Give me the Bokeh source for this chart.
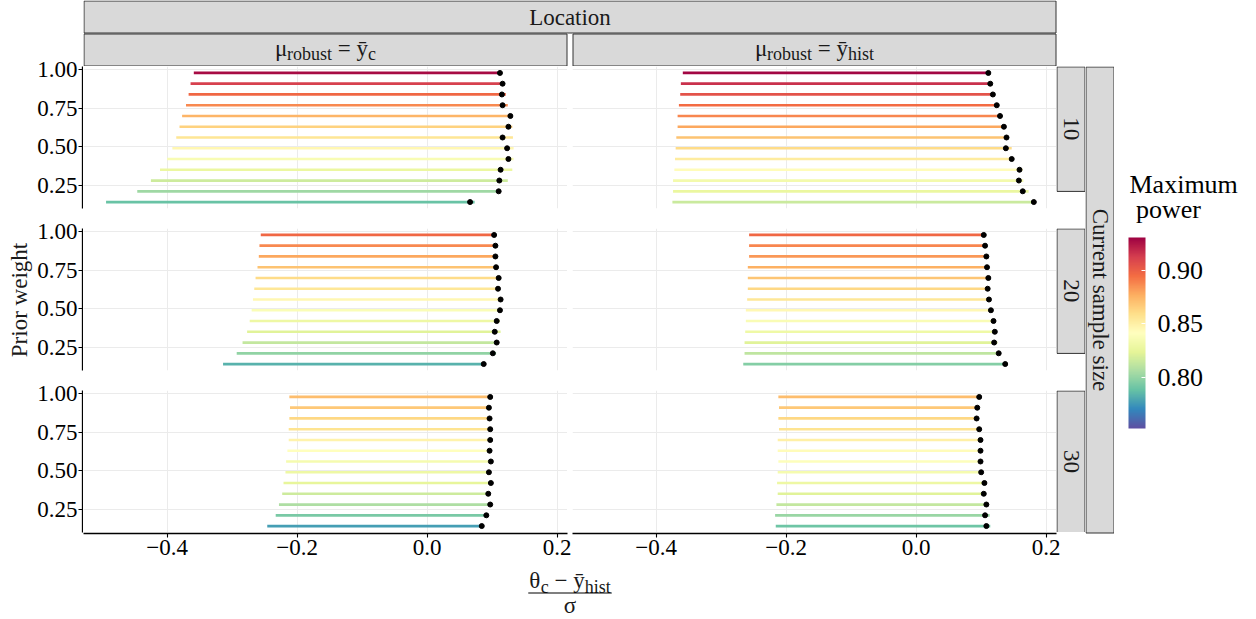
import math
from bokeh.plotting import figure
from bokeh.layouts import row, column
from bokeh.models import (Range1d, LinearAxis, Grid, FixedTicker, CustomJSTickFormatter,
                          PrintfTickFormatter, ColumnDataSource, LinearColorMapper, ColorBar)
from bokeh.transform import transform
from bokeh.core.properties import value
from bokeh.embed import file_html
from bokeh.resources import INLINE

# ---------------- data ----------------
weights = [0.98, 0.91, 0.84, 0.77, 0.70, 0.63, 0.56, 0.49, 0.42, 0.35, 0.28, 0.21, 0.14]
sample_sizes = ["10", "20", "30"]
x_ticks = [-0.4, -0.2, 0.0, 0.2]
y_ticks = [0.25, 0.50, 0.75, 1.00]
power_ticks = [0.80, 0.85, 0.90]
power_low, power_high = 0.752, 0.931

# n = 10, mu_robust = ybar_c
n10_c_start = [-0.359, -0.364, -0.367, -0.371, -0.377, -0.381, -0.386, -0.392, -0.400, -0.411, -0.425, -0.446, -0.494]
n10_c_end = [0.112, 0.117, 0.121, 0.124, 0.128, 0.131, 0.132, 0.133, 0.133, 0.131, 0.124, 0.109, 0.073]
n10_c_dot = [0.112, 0.116, 0.115, 0.116, 0.128, 0.125, 0.116, 0.123, 0.125, 0.113, 0.111, 0.110, 0.066]
n10_c_power = [0.928, 0.912, 0.897, 0.887, 0.875, 0.864, 0.856, 0.846, 0.836, 0.828, 0.816, 0.803, 0.789]
# n = 10, mu_robust = ybar_hist
n10_h_start = [-0.359, -0.362, -0.363, -0.365, -0.367, -0.367, -0.369, -0.370, -0.371, -0.372, -0.374, -0.374, -0.375]
n10_h_end = [0.111, 0.114, 0.118, 0.125, 0.129, 0.138, 0.138, 0.147, 0.148, 0.164, 0.165, 0.173, 0.182]
n10_h_dot = [0.111, 0.114, 0.118, 0.124, 0.129, 0.135, 0.139, 0.138, 0.147, 0.159, 0.158, 0.164, 0.181]
n10_h_power = [0.929, 0.917, 0.905, 0.896, 0.888, 0.879, 0.870, 0.861, 0.852, 0.843, 0.833, 0.827, 0.815]
# n = 20, mu_robust = ybar_c
n20_c_start = [-0.256, -0.258, -0.259, -0.261, -0.264, -0.266, -0.268, -0.270, -0.273, -0.277, -0.284, -0.293, -0.314]
n20_c_end = [0.103, 0.105, 0.106, 0.106, 0.110, 0.109, 0.113, 0.112, 0.112, 0.113, 0.108, 0.106, 0.090]
n20_c_dot = [0.103, 0.105, 0.105, 0.106, 0.110, 0.109, 0.113, 0.112, 0.107, 0.104, 0.107, 0.101, 0.087]
n20_c_power = [0.897, 0.887, 0.879, 0.870, 0.861, 0.855, 0.846, 0.838, 0.829, 0.822, 0.813, 0.799, 0.783]
# n = 20, mu_robust = ybar_hist
n20_h_start = [-0.257, -0.257, -0.257, -0.259, -0.259, -0.259, -0.260, -0.262, -0.262, -0.263, -0.264, -0.264, -0.266]
n20_h_end = [0.104, 0.106, 0.108, 0.109, 0.111, 0.110, 0.112, 0.115, 0.119, 0.121, 0.125, 0.127, 0.137]
n20_h_dot = [0.104, 0.106, 0.108, 0.109, 0.111, 0.110, 0.112, 0.115, 0.119, 0.121, 0.120, 0.127, 0.137]
n20_h_power = [0.897, 0.888, 0.883, 0.876, 0.869, 0.862, 0.855, 0.845, 0.837, 0.830, 0.822, 0.812, 0.796]
# n = 30, mu_robust = ybar_c
n30_c_start = [-0.212, -0.211, -0.212, -0.213, -0.213, -0.215, -0.217, -0.218, -0.221, -0.223, -0.228, -0.233, -0.246]
n30_c_end = [0.097, 0.095, 0.096, 0.097, 0.097, 0.096, 0.098, 0.095, 0.098, 0.095, 0.097, 0.093, 0.087]
n30_c_dot = [0.097, 0.095, 0.096, 0.097, 0.097, 0.096, 0.098, 0.095, 0.098, 0.094, 0.097, 0.091, 0.084]
n30_c_power = [0.872, 0.868, 0.862, 0.857, 0.848, 0.841, 0.834, 0.829, 0.825, 0.816, 0.807, 0.793, 0.777]
# n = 30, mu_robust = ybar_hist
n30_h_start = [-0.212, -0.211, -0.212, -0.211, -0.213, -0.213, -0.212, -0.213, -0.214, -0.213, -0.215, -0.217, -0.216]
n30_h_end = [0.097, 0.094, 0.093, 0.097, 0.099, 0.099, 0.099, 0.100, 0.105, 0.104, 0.108, 0.113, 0.114]
n30_h_dot = [0.097, 0.094, 0.093, 0.097, 0.099, 0.099, 0.099, 0.100, 0.105, 0.104, 0.108, 0.106, 0.108]
n30_h_power = [0.872, 0.868, 0.862, 0.857, 0.850, 0.843, 0.840, 0.834, 0.829, 0.822, 0.813, 0.801, 0.790]

# ---------------- style ----------------
FONT = "Liberation Serif"
GRID = "#EBEBEB"
STRIP_FILL = "#D9D9D9"
STRIP_LINE = "#333333"
TXT = "#1A1A1A"
XR = (-0.5287, 0.2159)
YR = (0.098, 1.022)
FRAME_W, FRAME_H = 484, 142
BASE_SHIFT = 0.33  # em correction for the alphabetic baseline as rendered

spectral = ['#5E4FA2', '#3288BD', '#66C2A5', '#ABDDA4', '#E6F598', '#FFFFBF',
            '#FEE08B', '#FDAE61', '#F46D43', '#D53E4F', '#9E0142']


def lerp_palette(colors, n):
    rgb = [tuple(int(c[i:i + 2], 16) for i in (1, 3, 5)) for c in colors]
    out = []
    for k in range(n):
        t = k / (n - 1) * (len(rgb) - 1)
        i = min(int(t), len(rgb) - 2)
        f = t - i
        c = tuple(int(round(rgb[i][j] + (rgb[i + 1][j] - rgb[i][j]) * f)) for j in range(3))
        out.append('#%02x%02x%02x' % c)
    return out


mapper = LinearColorMapper(palette=lerp_palette(spectral, 256), low=power_low, high=power_high)

CW = {'μ': 0.52, 'θ': 0.5, 'σ': 0.54, 'ȳ': 0.5, 'y': 0.5, '=': 0.564, '−': 0.564, ' ': 0.25,
      'r': 0.333, 'o': 0.5, 'b': 0.5, 'u': 0.5, 's': 0.389, 't': 0.278, 'h': 0.5, 'i': 0.278, 'c': 0.444}


def base_fig(width, height, x_range, y_range, left=0, right=0, top=0, bottom=0):
    p = figure(width=width, height=height, x_range=x_range, y_range=y_range,
               min_border=0, min_border_left=left, min_border_right=right,
               min_border_top=top, min_border_bottom=bottom,
               x_axis_location=None, y_axis_location=None, toolbar_location=None,
               output_backend="svg", outline_line_color=None,
               background_fill_color="white", border_fill_color="white")
    p.grid.visible = False
    return p


def canvas(w, h, x0, y0):
    return base_fig(w, h, Range1d(x0, x0 + w), Range1d(y0 + h, y0))


def txt(p, x, baseline, s, size, align="left", color=TXT):
    p.text(x=[x], y=[baseline - BASE_SHIFT * size], text=[s], text_font=value(FONT),
           text_font_size=f"{size}px", text_align=align, text_baseline="alphabetic",
           text_color=color)


def math_text(p, pieces, xc, baseline):
    widths = [sum(CW.get(ch, 0.5) for ch in s) * size for s, size, dy in pieces]
    x = xc - sum(widths) / 2.0
    for (s, size, dy), w in zip(pieces, widths):
        lead = (len(s) - len(s.lstrip(' '))) * 0.25 * size
        txt(p, x + lead, baseline + dy, s.strip(), size)
        x += w
    return xc - sum(widths) / 2.0, xc + sum(widths) / 2.0


def style_axis(ax, standoff=2):
    ax.axis_line_color = "black"
    ax.axis_line_width = 1.3
    ax.major_tick_line_color = "black"
    ax.major_tick_line_width = 1.1
    ax.major_tick_out = 4
    ax.major_tick_in = 0
    ax.minor_tick_out = 0
    ax.minor_tick_in = 0
    ax.major_label_text_font = FONT
    ax.major_label_text_font_size = "23px"
    ax.major_label_text_color = "black"
    ax.major_label_standoff = standoff


def make_panel(start, end, dot, power, left_border, bottom_border):
    p = base_fig(left_border + FRAME_W, FRAME_H + bottom_border, Range1d(*XR), Range1d(*YR),
                 left=left_border, bottom=bottom_border)
    p.add_layout(Grid(dimension=0, ticker=FixedTicker(ticks=x_ticks), grid_line_color=GRID, grid_line_width=1))
    p.add_layout(Grid(dimension=1, ticker=FixedTicker(ticks=y_ticks), grid_line_color=GRID, grid_line_width=1))
    src = ColumnDataSource(dict(w=weights, start=start, end=end, dot=dot, power=power))
    p.segment(x0='start', y0='w', x1='end', y1='w', line_width=2.7,
              line_color=transform('power', mapper), source=src)
    p.scatter(x='dot', y='w', size=5, fill_color='black', line_color='black', source=src)
    return p


def y_axis_fig(top, bottom):
    # axis-only figure: 1px wide frame, the y axis lives in its left border
    p = base_fig(50, top + FRAME_H + bottom, Range1d(0, 1), Range1d(*YR), left=49, top=top, bottom=bottom)
    ax = LinearAxis(ticker=FixedTicker(ticks=y_ticks), formatter=PrintfTickFormatter(format="%.2f"))
    style_axis(ax, standoff=1)
    p.add_layout(ax, 'left')
    return p


def x_axis_fig(right):
    # axis-only figure: 1px tall frame, the x axis lives in its bottom border
    p = base_fig(FRAME_W + right, 35, Range1d(*XR), Range1d(0, 1), right=right, bottom=34)
    ax = LinearAxis(ticker=FixedTicker(ticks=x_ticks),
                    formatter=CustomJSTickFormatter(
                        code="return (tick < -1e-9 ? '\u2212' : '') + Math.abs(tick).toFixed(1);"))
    style_axis(ax, standoff=2)
    p.add_layout(ax, 'below')
    return p


def inner_strip(label, h, top):
    s = canvas(29, h, 1056, top)
    s.quad(left=[1056.5], right=[1084.5], top=[top + 0.5], bottom=[top + FRAME_H + 0.5],
           fill_color=STRIP_FILL, line_color=STRIP_LINE, line_width=1)
    s.text(x=[1070.5], y=[top + FRAME_H / 2.0], text=[label], angle=-math.pi / 2,
           text_font=value(FONT), text_font_size="23px", text_align="center",
           text_baseline="middle", text_color=TXT)
    return s


# ---------------- panels ----------------
lp1 = make_panel(n10_c_start, n10_c_end, n10_c_dot, n10_c_power, 0, 20)
rp1 = make_panel(n10_h_start, n10_h_end, n10_h_dot, n10_h_power, 5, 20)
lp2 = make_panel(n20_c_start, n20_c_end, n20_c_dot, n20_c_power, 0, 20)
rp2 = make_panel(n20_h_start, n20_h_end, n20_h_dot, n20_h_power, 5, 20)
lp3 = make_panel(n30_c_start, n30_c_end, n30_c_dot, n30_c_power, 0, 0)
rp3 = make_panel(n30_h_start, n30_h_end, n30_h_dot, n30_h_power, 5, 0)

s1 = inner_strip(sample_sizes[0], 162, 66)
s2 = inner_strip(sample_sizes[1], 162, 228)
s3 = inner_strip(sample_sizes[2], 142, 390)

ay1 = y_axis_fig(8, 12)
ay2 = y_axis_fig(8, 12)
ay3 = y_axis_fig(8, 10)
axL = x_axis_fig(5)
axR = x_axis_fig(29)

# x title (fraction)
xt = canvas(1002, 51, 83, 567)
x0, x1 = math_text(xt, [("θ", 23, 0), ("c", 18, 4), (" − ", 23, 0), ("ȳ", 23, 0), ("hist", 18, 4)], 569.5, 588)
xt.segment(x0=[x0 - 1], y0=[592.5], x1=[x1 + 1], y1=[592.5], line_color="black", line_width=1.2)
txt(xt, 569.5, 612.5, "σ", 23, align="center")

# header strips
hd = canvas(1167, 66, 83, 0)
hd.quad(left=[83.5], right=[1055.5], top=[0.5], bottom=[32.5], fill_color=STRIP_FILL,
        line_color=STRIP_LINE, line_width=1)
hd.quad(left=[83.5, 572.5], right=[566.5, 1055.5], top=[33.5, 33.5], bottom=[65.5, 65.5],
        fill_color=STRIP_FILL, line_color=STRIP_LINE, line_width=1)
txt(hd, 569.5, 25, "Location", 23, align="center")
math_text(hd, [("μ", 23, 0), ("robust", 18, 3), (" = ", 23, 0), ("ȳ", 23, 0), ("c", 18, 3)], 325, 56)
math_text(hd, [("μ", 23, 0), ("robust", 18, 3), (" = ", 23, 0), ("ȳ", 23, 0), ("hist", 18, 3)], 814, 56)

# outer strip
outer = canvas(29, 552, 1085, 66)
outer.quad(left=[1085.5], right=[1113.5], top=[66.5], bottom=[532.5], fill_color=STRIP_FILL,
           line_color=STRIP_LINE, line_width=1)
outer.text(x=[1099.5], y=[299.5], text=["Current sample size"], angle=-math.pi / 2,
           text_font=value(FONT), text_font_size="23px", text_align="center",
           text_baseline="middle", text_color=TXT)

# legend
leg = canvas(136, 552, 1114, 66)
txt(leg, 1129, 193, "Maximum", 26, color="black")
txt(leg, 1135.5, 218, "power", 26, color="black")
cb = ColorBar(color_mapper=mapper, ticker=FixedTicker(ticks=power_ticks),
              formatter=PrintfTickFormatter(format="%.2f"),
              width=17, height=191, location=(14, 190), padding=0, margin=0,
              major_label_text_font=FONT, major_label_text_font_size="26px",
              major_label_text_color="black", major_tick_line_color="white",
              major_tick_in=4, major_tick_out=0, minor_tick_in=0, minor_tick_out=0,
              label_standoff=12, bar_line_color=None, border_line_color=None,
              background_fill_alpha=0)
leg.add_layout(cb, 'center')

# y label
yl = canvas(33, 618, 0, 0)
yl.text(x=[18.5], y=[299.5], text=["Prior weight"], angle=math.pi / 2, text_font=value(FONT),
        text_font_size="23px", text_align="center", text_baseline="middle", text_color=TXT)

axcol = column(canvas(50, 58, 33, 0), ay1, ay2, ay3, canvas(50, 76, 33, 542))
panels = column(row(lp1, rp1, s1), row(lp2, rp2, s2), row(lp3, rp3, s3), row(axL, axR), xt)
body = row(panels, outer, leg)
rest = column(hd, body)
layout = row(yl, axcol, rest)

with open("out.html", "w", encoding="utf-8") as f:
    f.write(file_html(layout, INLINE))
